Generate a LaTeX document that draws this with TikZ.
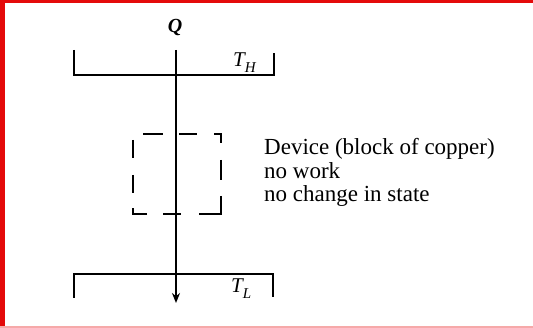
\documentclass[tikz,border=0pt]{standalone}
\usepackage{fontspec}
\setmainfont{Liberation Serif}
\usetikzlibrary{arrows.meta}
\definecolor{frame}{RGB}{228,10,10}
\newcommand{\subsym}[2]{#1\raisebox{-6pt}{\fontsize{15}{17}\selectfont #2}}
\begin{document}
\begin{tikzpicture}[x=1pt,y=-1pt,
  wall/.style={line width=1.8pt,line join=miter},
  flow/.style={line width=1.8pt,-{Stealth[length=10pt,width=8pt]}},
  dsh/.style={line width=1.8pt,line join=miter},
  lbl/.style={inner sep=0pt,font=\fontsize{23}{25}\selectfont},
  sym/.style={inner sep=0pt,font=\fontsize{21}{24}\selectfont\itshape}]
\useasboundingbox (0,0) rectangle (533,328);
\fill[white] (0,0) rectangle (533,328);
% red frame
\fill[frame] (0,0) rectangle (5,328);
\fill[frame] (0,0) rectangle (533,3);
\fill[frame!35] (0,326) rectangle (533,328);
% hot reservoir
\draw[wall] (74,50) -- (74,75) -- (274,75) -- (274,53);
% cold reservoir
\draw[wall] (74,298) -- (74,274) -- (273,274) -- (273,297);
% heat flow
\node[inner sep=0pt,font=\fontsize{20}{22}\selectfont\bfseries\itshape] (Q) at (175,28) {Q};
\coordinate (qtop) at (176,50);
\coordinate (qend) at (176,303);
\draw[flow] (qtop) -- (qend);
% device box (dashed outline)
\draw[dsh] (143,134) -- (163,134);
\draw[dsh] (179,134) -- (197,134);
\draw[dsh] (214,134) -- (221,134) -- (221,143);
\draw[dsh] (221,160) -- (221,180);
\draw[dsh] (221,196) -- (221,214) -- (199,214);
\draw[dsh] (163,214) -- (181,214);
\draw[dsh] (147,214) -- (133,214) -- (133,208);
\draw[dsh] (133,175) -- (133,193);
\draw[dsh] (133,140) -- (133,158);
% labels
\node[sym,anchor=base west] (TH) at (233,67) {\subsym{T}{H}};
\node[sym,anchor=base west] (TL) at (231,293) {\subsym{T}{L}};
\node[lbl,anchor=base west] (d1) at (264,155) {Device (block of copper)};
\node[lbl,anchor=base west] (d2) at (264,178.5) {no work};
\node[lbl,anchor=base west] (d3) at (264,202) {no change in state};
\end{tikzpicture}
\end{document}
